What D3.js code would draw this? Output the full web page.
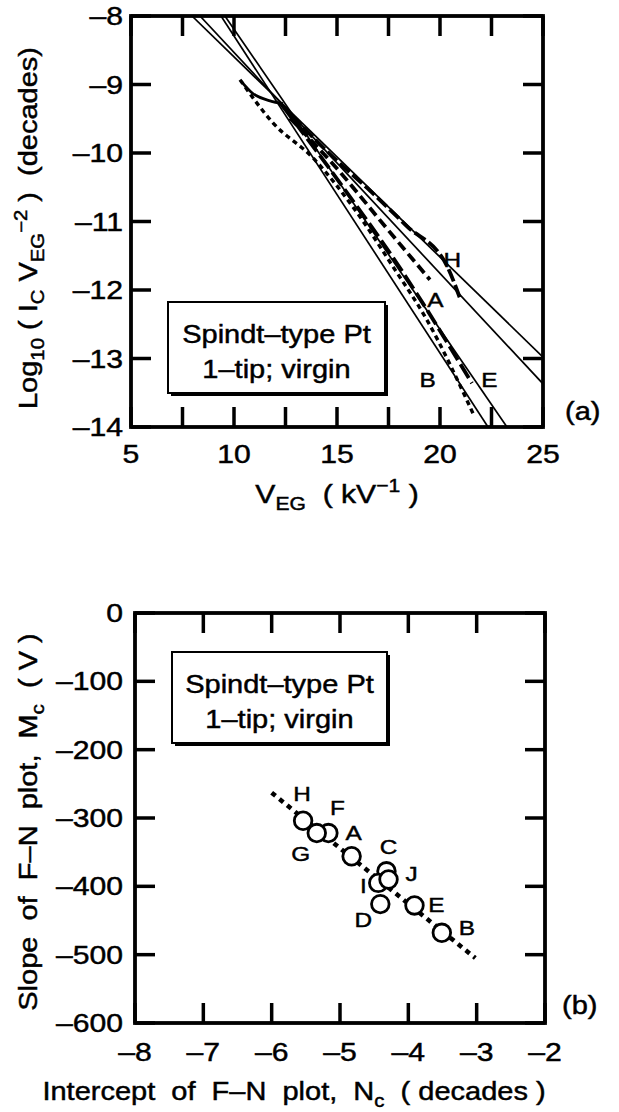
<!DOCTYPE html>
<html><head><meta charset="utf-8">
<script src="https://cdn.jsdelivr.net/npm/d3@7"></script>
<style>
html,body{margin:0;padding:0;background:#fff;}
text{font-family:"Liberation Sans",Arial,sans-serif;fill:#000;stroke:#000;stroke-width:0.45px;white-space:pre;}
</style></head>
<body>
<script>
// ---------- DATA ----------
// Panel (a): F-N plots
const xTicksA = [5, 7.5, 10, 12.5, 15, 17.5, 20, 22.5, 25];
const xLabelsA = [5, 10, 15, 20, 25];
const yTicksA = [-8, -9, -10, -11, -12, -13, -14];
// fitted straight lines (start and end points, data units)
const fitNames = ["H", "A", "B", "E"];
const fitStart = [[7.96, -8], [8.35, -8], [9.37, -8], [9.56, -8]];
const fitEnd = [[25, -12.98], [25, -13.37], [22.33, -14], [23.25, -14]];
// measured curves
const curveH = [[12.23, -9.27], [14.81, -10.06], [16.46, -10.51], [18.40, -11.07], [20.34, -11.65], [20.97, -12.12]];
const curveA = [[12.72, -9.49], [15.15, -10.28], [17.33, -11.07], [19.51, -11.85]];
const curveE = [[12.33, -9.30], [15.15, -10.44], [18.06, -11.68], [21.55, -13.36]];
const curveB = [[10.29, -8.93], [11.89, -9.56], [13.83, -10.07], [15.78, -10.79], [17.72, -11.66], [19.37, -12.44], [21.60, -13.80]];
const curveStart = [[10.34, -8.95], [10.87, -9.12], [11.75, -9.24], [12.38, -9.28]];
const labelsA = ["H", "A", "B", "E"];
const labelPosA = [[20.6, -11.55], [19.78, -12.13], [19.4, -13.3], [22.4, -13.3]];

// Panel (b): slope vs intercept
const xTicksB = [-8, -7, -6, -5, -4, -3, -2];
const yTicksB = [0, -100, -200, -300, -400, -500, -600];
const tips = ["H", "F", "G", "A", "C", "I", "J", "D", "E", "B"];
const interceptNc = [-5.54, -5.17, -5.34, -4.83, -4.32, -4.44, -4.29, -4.41, -3.91, -3.51];
const slopeMc = [-304, -322, -322, -356, -378, -395, -390, -426, -428, -468];
const trendNc = [-6.0, -3.02];
const trendMc = [-263, -505];

// ---------- LAYOUT ----------
const W = 619, H = 1112, SX = 1.16;
const svg = d3.select("body").append("svg").attr("width", W).attr("height", H);
svg.append("rect").attr("width", W).attr("height", H).attr("fill", "#fff");

const xA = d3.scaleLinear().domain([5, 25]).range([131, 543]);
const yA = d3.scaleLinear().domain([-14, -8]).range([427, 16]);
const xB = d3.scaleLinear().domain([-8, -2]).range([135, 545]);
const yB = d3.scaleLinear().domain([-600, 0]).range([1023, 613]);

const fmt = v => (v < 0 ? "\u2013" + Math.abs(v) : String(v));

function rich(parent, x, y, parts, size, anchor, rot) {
  const t = parent.append("text")
    .attr("transform", `translate(${x},${y}) rotate(${rot || 0}) scale(${SX},1)`)
    .attr("font-size", size).attr("text-anchor", anchor || "middle");
  let shift = 0;
  parts.forEach(p => {
    const s = typeof p === "string" ? { t: p } : p;
    let target = s.sub ? 0.28 * size : s.sup ? -0.42 * size : 0;
    const ts = t.append("tspan").text(s.t).attr("dy", target - shift);
    if (s.sub || s.sup) ts.attr("font-size", size * 0.7);
    shift = target;
  });
  return t;
}

function boxFrame(g, xs, ys) {
  const x0 = xs.range()[0], x1 = xs.range()[1];
  const y0 = ys.range()[1], y1 = ys.range()[0];
  g.append("rect").attr("x", x0).attr("y", y0).attr("width", x1 - x0).attr("height", y1 - y0)
    .attr("fill", "none").attr("stroke", "#000").attr("stroke-width", 3.8);
}
function tickMarks(xs, ys, xt, yt) {
  const x0 = xs.range()[0], x1 = xs.range()[1];
  const y0 = ys.range()[1], y1 = ys.range()[0];
  const g = svg.append("g").attr("class", "ticks");
  xt.forEach(v => {
    g.append("line").attr("x1", xs(v)).attr("x2", xs(v)).attr("y1", y1).attr("y2", y1 - 20).attr("stroke", "#000").attr("stroke-width", 3.5);
    g.append("line").attr("x1", xs(v)).attr("x2", xs(v)).attr("y1", y0).attr("y2", y0 + 20).attr("stroke", "#000").attr("stroke-width", 3.5);
  });
  yt.forEach(v => {
    g.append("line").attr("y1", ys(v)).attr("y2", ys(v)).attr("x1", x0).attr("x2", x0 + 20).attr("stroke", "#000").attr("stroke-width", 3.5);
    g.append("line").attr("y1", ys(v)).attr("y2", ys(v)).attr("x1", x1).attr("x2", x1 - 20).attr("stroke", "#000").attr("stroke-width", 3.5);
  });
}

function legendBox(g, x, y, w, h) {
  g.append("rect").attr("x", x + 3).attr("y", y + 3).attr("width", w).attr("height", h).attr("fill", "#000");
  g.append("rect").attr("x", x).attr("y", y).attr("width", w).attr("height", h).attr("fill", "#fff").attr("stroke", "#000").attr("stroke-width", 2);
  rich(g, x + w / 2, y + 41, ["Spindt\u2013type Pt"], 25);
  rich(g, x + w / 2, y + 76, ["1\u2013tip; virgin"], 25);
}

// ---------- PANEL (a) ----------
const gA = svg.append("g");
svg.append("defs").append("clipPath").attr("id", "clipA").append("rect")
  .attr("x", 131).attr("y", 16).attr("width", 412).attr("height", 411);
const plotA = gA.append("g").attr("clip-path", "url(#clipA)");
const straight = d3.line().x(d => xA(d[0])).y(d => yA(d[1]));

fitNames.forEach((n, i) => {
  plotA.append("path").attr("d", straight([fitStart[i], fitEnd[i]]))
    .attr("fill", "none").attr("stroke", "#000").attr("stroke-width", 1.7);
});
const curves = [
  { d: curveStart, w: 2.8, dash: null },
  { d: curveH, w: 3.8, dash: "13,4" },
  { d: curveA, w: 3.8, dash: "10,5" },
  { d: curveE, w: 3.8, dash: "16,5" },
  { d: curveB, w: 3.4, dash: "5,4" }
];
const smooth = d3.line().x(d => xA(d[0])).y(d => yA(d[1])).curve(d3.curveMonotoneX);
curves.forEach(c => {
  const p = plotA.append("path").attr("d", smooth(c.d))
    .attr("fill", "none").attr("stroke", "#000").attr("stroke-width", c.w);
  if (c.dash) p.attr("stroke-dasharray", c.dash);
});

legendBox(gA, 168, 302, 217, 91);
labelsA.forEach((l, i) => rich(gA, xA(labelPosA[i][0]), yA(labelPosA[i][1]) + 8, [l], 21));
boxFrame(gA, xA, yA);

xLabelsA.forEach(v => rich(gA, xA(v), 463, [fmt(v)], 26));
yTicksA.forEach(v => rich(gA, 123, yA(v) + 9, [fmt(v)], 26, "end"));
rich(gA, 337, 503, ["V", { t: "EG", sub: 1 }, "  ( kV", { t: "\u22121", sup: 1 }, " )"], 26);
rich(gA, 37, 228, ["Log", { t: "10", sub: 1 }, " ( I", { t: "C", sub: 1 }, " V", { t: "EG", sub: 1 }, { t: "\u22122", sup: 1 }, " )  (decades)"], 25, "middle", -90);
rich(gA, 565, 420, ["(a)"], 25, "start");

// ---------- PANEL (b) ----------
const gB = svg.append("g");
legendBox(gB, 172, 652, 215, 91);
gB.append("path").attr("d", d3.line().x(d => xB(d[0])).y(d => yB(d[1]))(trendNc.map((v, i) => [v, trendMc[i]])))
  .attr("fill", "none").attr("stroke", "#000").attr("stroke-width", 4.5).attr("stroke-dasharray", "5,5");
tips.forEach((n, i) => {
  gB.append("circle").attr("cx", xB(interceptNc[i])).attr("cy", yB(slopeMc[i])).attr("r", 8.8)
    .attr("fill", "#fff").attr("stroke", "#000").attr("stroke-width", 2.8);
});
const lblOff = { H: [-1, -28], F: [9, -26], G: [-16, 20], A: [2, -24], C: [2, -25], I: [-15, 2], J: [23, -7], D: [-17, 15], E: [22, -1], B: [25, -6] };
tips.forEach((n, i) => {
  const o = lblOff[n];
  rich(gB, xB(interceptNc[i]) + o[0], yB(slopeMc[i]) + o[1] + 8, [n], 21);
});
boxFrame(gB, xB, yB);
xTicksB.forEach(v => rich(gB, xB(v), 1061, [fmt(v)], 26));
yTicksB.forEach(v => rich(gB, 123, yB(v) + 9, [fmt(v)], 26, "end"));
rich(gB, 294, 1100, ["Intercept  of  F\u2013N  plot,  N", { t: "c", sub: 1 }, "  ( decades )"], 25);
rich(gB, 37, 822, ["Slope  of  F\u2013N  plot,  M", { t: "c", sub: 1 }, "  ( V )"], 25, "middle", -90);
rich(gB, 562, 1014, ["(b)"], 25, "start");

// tick marks last, on top of everything
tickMarks(xA, yA, xTicksA, yTicksA);
tickMarks(xB, yB, xTicksB, yTicksB);
</script>
</body></html>
